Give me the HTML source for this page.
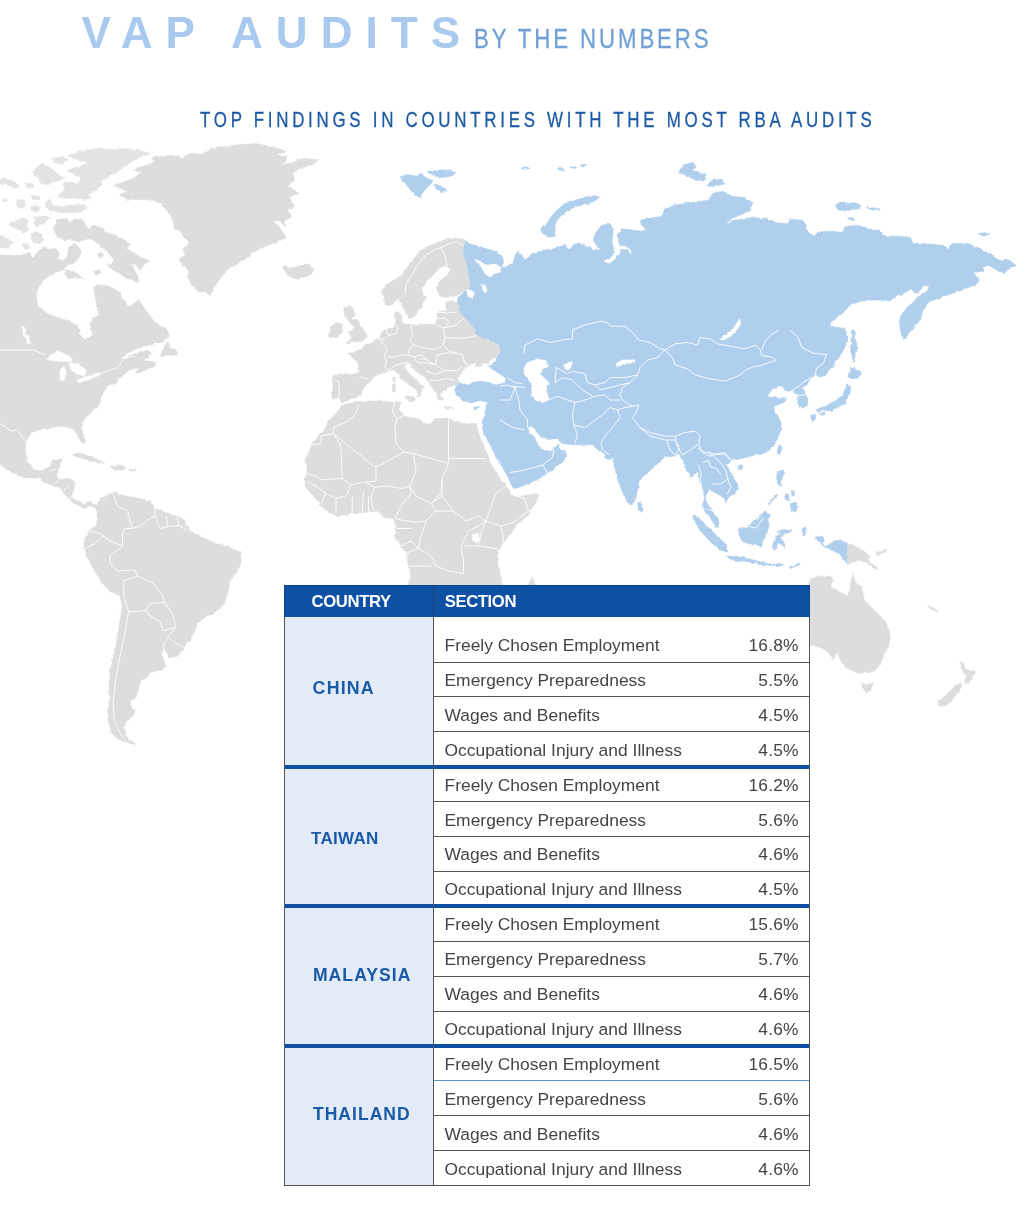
<!DOCTYPE html>
<html><head><meta charset="utf-8"><title>VAP Audits by the Numbers</title>
<style>
html,body{margin:0;padding:0;background:#fff}
body{width:1024px;height:1212px;position:relative;overflow:hidden;font-family:"Liberation Sans",sans-serif}
.map{position:absolute;left:0;top:0}
.t1{position:absolute;left:81.5px;top:9px;font-size:44px;font-weight:bold;color:#a9c9ee;letter-spacing:13.1px;line-height:48px;white-space:nowrap}
.t2{-webkit-text-stroke:0.3px #6f9fd6;position:absolute;left:473.5px;top:21px;font-size:28.5px;color:#6f9fd6;line-height:34px;white-space:nowrap;transform-origin:0 0;transform:scaleX(0.78);letter-spacing:3.73px}
.t3{-webkit-text-stroke:0.3px #1d5aa5;position:absolute;left:200px;top:106px;font-size:21.7px;color:#1d5aa5;line-height:28px;white-space:nowrap;transform-origin:0 0;transform:scaleX(0.78);letter-spacing:4.77px}
.table{position:absolute;left:284px;top:585px;width:526px;height:601px;background:#fff;box-sizing:border-box}
.table .frame{position:absolute;left:0;top:31px;right:0;bottom:0;border:1px solid #555;border-top:none;box-sizing:border-box;pointer-events:none}
.thead{position:absolute;left:0;top:0;width:526px;height:32px;box-sizing:border-box;border:1px solid #0b4590;border-bottom:none;background:#0e51a4;z-index:2;color:#fff;font-weight:bold;font-size:16.7px;letter-spacing:-0.4px}
.thead .h1{position:absolute;left:26.6px;top:5.6px;line-height:20px}
.thead .h2{position:absolute;left:159.7px;top:5.6px;line-height:20px}
.ccell{position:absolute;left:0;width:149px;background:#e4ebf8;color:#1a5aa6;font-weight:bold;font-size:16px;letter-spacing:1px}
.ccell span{position:absolute;line-height:20px;white-space:nowrap}
.row{position:absolute;left:149px;width:377px;font-size:17.4px;color:#444}
.row .a{position:absolute;left:11.5px;line-height:20px;letter-spacing:0.02px;white-space:nowrap}
.row .p{position:absolute;right:11.4px;line-height:20px;letter-spacing:0.15px;white-space:nowrap}
.hl{position:absolute;left:149px;width:377px;height:1px;background:#555}
.vl{position:absolute;left:148.5px;top:32px;width:1px;height:569px;background:#555}
.vlh{position:absolute;left:148.5px;top:0;width:1px;height:32px;background:#1b3f78;z-index:3}
.thick{position:absolute;left:0;width:526px;height:4px;background:#0e51a4}
</style></head><body>
<svg class="map" width="1024" height="1212" viewBox="0 0 1024 1212">
<defs><filter id="rough" x="-20" y="0" width="1064" height="1212" filterUnits="userSpaceOnUse"><feTurbulence type="fractalNoise" baseFrequency="0.22" numOctaves="2" seed="7" result="n"/><feDisplacementMap in="SourceGraphic" in2="n" scale="3.2" xChannelSelector="R" yChannelSelector="G"/></filter></defs>
<g filter="url(#rough)">
<path fill="#afcfed" stroke="#afcfed" stroke-width="0.6" stroke-linejoin="round" d="M465.5,239.8 468.4,243.7 476.2,245.6 486,248.6 495.8,251.5 502.6,257.3 503.6,262.2 501.6,268.1 507.5,266.1 513.4,263.2 515.3,255.4 517.3,251.5 520,250.5 515.8,252.5 522,255 524.5,260 532,253.8 544.5,250 554.5,248.8 564.5,245 569.5,250 574.5,243.8 584.5,245 594.5,250 599.5,250 593.2,240 595.8,232.5 602,225 610.8,223.8 613.2,230 612,242.5 614.5,252.5 609.5,258.8 602,261.2 609.5,263.8 617,257.5 620.8,250 627,248.8 630.8,255 632,251.2 627,246.2 619.5,245 617,235 622,228.8 632,230 642,231.2 647,230 640.8,225 640.8,220 662,216.2 664.5,210 674.5,205 692,202.5 709.5,200 712,193.8 722,191.2 732,196.2 744.5,197.5 752,202.5 750.8,210 737,216.2 724.5,223.8 737,220 752,217.5 768,218.8 768,220 778,223 788,223.8 790.5,218.8 803,220.5 806.8,226.2 805.5,230 814.2,236.2 818,232 830.5,231.2 843,232.5 845.5,226.2 858,225 868,228.8 878,230 885.5,236.2 898,236.2 910.5,237.5 913,243.8 928,243.8 940.5,245 948,249.5 951.8,243.8 965.5,243 978,247.5 990.5,253.8 998,260 1003,261.2 1004.2,258.8 1011.8,261.2 1015.5,265 1008,268.8 1004.2,273.8 996.8,270 988,265 983,267.5 983,271.2 973,272.5 979.2,280 975.5,285 965.5,288.8 948,295 930.5,301.2 928,302.5 923,310 920.5,320 913,327.5 908,335 903,340 900.5,330 899.2,320 904.2,310 913,302.5 920.5,295 928,290 929.2,285 924.2,286.2 918,292.5 910.5,290 903,292.5 895.5,297.5 890.5,301.2 883,300 873,300 860.5,301.2 850.5,305 840.5,315 830.5,322.5 829.2,326.2 838,327.5 845.5,328.8 848,337.5 845,347.6 839.1,357.3 832.3,367.1 826.4,373.9 821.6,376.9 816.7,375.9 811.8,376.9 807.9,382.7 803,387.6 805.9,394.5 807.9,401.3 806.9,407.1 802,408.1 799.1,407.1 798.1,400.3 799.1,395.4 795.2,393.5 793.2,389.6 788.4,391.5 784.5,389.6 783.5,386.6 778.6,385.7 773.7,388.6 769.8,391.5 767.9,394.5 770.8,397.4 776.6,396.4 780.5,398.4 784.5,398.4 787.4,399.3 782.5,403.2 776.6,405.2 773.7,407.1 774.7,412 778.6,416.9 781.5,423.8 780.5,431.6 777.6,438.4 773.7,445.2 767.9,451.1 762,454 755.2,455 749.3,457 743.4,457.9 738.6,459.9 733.7,458.9 729.8,462.8 725.9,464.8 729.5,471 734.5,478.5 738.2,486 735.8,493.5 729.5,496 725.8,502.2 724.5,498.5 717,493.5 712,491 709.5,488.5 705.8,496 707,503.5 712,511 718.2,518.5 719.5,527.2 715.8,527.2 710.8,518.5 704.5,511 703.2,503.5 704.5,498.5 703.2,491 699.5,481 698.2,471 694.5,474.8 690.8,477.2 687,471 682,459.8 678.2,453.5 674.5,456 664.5,457.2 659.5,462.2 649.5,471 639.5,479.8 638.2,486 635.8,498.5 632,504.8 628.2,503.5 623.2,493.5 618.2,481 614.5,468.5 613.2,457.2 610.8,459.8 605.8,458.5 604.5,453.5 599.5,451 592,444.8 574.5,444.8 562,443.5 558.2,439.8 559.1,448.1 565,452 567,455.9 563,461.8 557.2,466.7 549.4,471.6 543.5,476.4 533.8,481.3 522,486.2 513.2,489.1 512.3,487.2 508.4,477.4 502.5,467.7 496.6,457.9 491.8,448.1 486.9,438.4 483,430.5 482,426.6 482,422.7 483.9,416.9 485.9,409.1 486.9,402.2 481,400.3 473.2,402.2 463.4,401.2 456.6,395.4 454.6,389.5 457.7,380.4 460.6,374.5 485,363.8 489.9,362.8 493.8,359.9 498.7,355 500.7,350.1 497.7,345.2 489.9,341.3 482.1,337.4 476.2,335.5 474.3,329.6 470.4,323.8 464.5,317.9 459.6,312 457.7,304.2 457.7,298.4 460.6,295.4 465.5,290.5 470.4,286.6 469.4,280.8 467.5,271 465.5,261.2 462.6,251.5 463.6,245.6Z"/>
<path fill="#e3e3e3" stroke="#e3e3e3" stroke-width="0.6" stroke-linejoin="round" d="M81.2,150.9 96.9,148.6 112.5,149.4 125,148.6 137.5,150.2 150,153.3 140.6,157.2 131.2,161.9 123.4,167.3 115.6,172.8 109.4,175.9 103.1,180.6 100,186.9 93.8,191.6 87.5,194.7 92.2,197.8 84.4,199.4 75,197.8 65.6,198.6 56.2,197.8 60.9,193.1 65.6,188.4 62.5,183.8 68.8,181.4 78.1,183.8 81.2,179.1 75,174.4 67.2,171.2 73.4,168.1 81.2,166.6 87.5,163.4 81.2,160.3 73.4,158.8 67.2,155.6 75,153.3Z M31.2,172.8 35.9,168.1 42.2,163.4 48.4,166.6 54.7,171.2 60.9,175.9 65.6,178.3 59.4,180.6 51.6,182.2 46.9,185.3 40.6,182.2 37.5,177.5Z M51.6,158.8 62.5,156.4 68.8,160.3 62.5,163.4 54.7,162.7Z M45.3,202.5 50,199.4 53.1,205.6 62.5,206.4 73.4,204.8 84.4,204.8 87.5,208 81.2,211.9 68.8,212.7 59.4,212.7 50,211.1 46.1,207.2Z M-9.4,179.1 9.4,179.1 17.2,183.8 19.5,187.7 12.5,186.9 4.7,183.8 -9.4,183Z M25,183 31.2,183.8 34.4,186.9 29.7,188.4 25.8,186.1Z M31.2,195.5 39.1,196.2 39.8,199.4 32.8,199.4Z M17.2,199.4 24.2,200.2 25.8,205.6 20.3,208.8 16.4,204.8Z M30.5,207.2 37.5,205.6 39.8,209.5 35.9,211.9 31.2,210.3Z M2.3,198.6 7,199.4 6.2,201.7 2.3,200.9Z M34.4,216.6 46.9,216.6 50,218.1 45.3,222.8 39.1,224.4 37.5,227.5 34.4,224.4Z M9.4,223.6 17.2,219.7 23.4,218.1 28.1,221.2 26.6,227.5 29.7,229.8 23.4,232.2 17.2,229.1 12.5,226.7Z M31.2,233.8 35.9,231.4 41.4,233.8 43.8,240 39.1,243.9 33.6,243.1 31.2,238.4Z M-9.4,230.6 4.7,236.9 12.5,241.6 9.4,247.8 3.1,247.8 -9.4,246.2Z M21.9,244.7 28.1,243.9 31.2,247.8 25,249.4Z"/>
<path fill="#dddddd" stroke="#dddddd" stroke-width="0.6" stroke-linejoin="round" d="M53.9,227.5 57.8,219.7 65.6,218.1 70.3,222.8 73.4,219.7 81.2,218.9 85.2,224.4 89.1,229.1 93.8,225.2 100,227.5 106.2,232.2 112.5,233.8 118.8,236.9 125,240 129.7,244.7 126.6,247.8 132.8,252.5 140.6,257.2 149.2,261.1 143.8,265 140.6,269.7 135.9,265 129.7,263.4 134.4,269.7 137.5,275.9 139.1,282.2 132.8,280.6 125,277.5 118.8,272.8 112.5,269.7 107.8,265 114.1,261.9 112.5,257.2 107.8,252.5 101.6,246.2 95.3,241.6 89.1,238.4 84.4,240 78.1,241.6 70.3,240 64.1,240 57.8,236.9 54.7,232.2Z M95.3,286.9 106.2,286.1 114.1,290 120.3,296.2 125,302.5 132.8,310.3 137.5,315 131.2,316.6 121.9,311.9 112.5,308.8 103.1,304.1 96.9,300 94.5,293.1Z M96.9,254.1 101.6,252.5 103.9,255.6 100,258Z M93.8,271.2 100,269.7 100.8,273.6 95.3,274.4Z M65.6,269.7 73.4,271.2 79.7,275.9 82.8,278.3 75,277.5 68.8,279.1 64.8,274.4Z M160.2,355.4 163.1,349.5 168,340.7 169.9,347.6 175.8,349.5 177.7,354.4 171.9,356.4 166,355.4Z M113.2,185.5 122.9,182.3 133.6,178 142.2,171.5 133.6,170.4 142.2,166.2 153,162.9 153,157.6 168,155.4 178.8,155.4 180.9,158.6 189.5,153.3 202.4,154.3 211,149 226,146.8 238.9,144.7 256.1,143.6 273.3,146.8 286.2,151.1 275.4,155.4 288.3,156.5 281.9,165.1 292.6,161.9 303.4,158.6 318.4,159.7 312,165.1 299.1,168.3 292.6,173.7 294.8,180.1 288.3,186.6 299.1,193 289.4,197.3 294.8,205.9 287.2,210.2 292.6,216.6 284,220.9 286.2,227.4 279.7,220.9 273.3,220.9 281.9,229.5 286.2,238.1 275.4,242.4 264.7,246.7 253.9,252.1 247.5,257.5 236.8,263.9 226,270.4 219.6,278.9 214.2,287.5 209.9,296.1 205.6,291.8 198.1,291.8 192.7,285.4 187.3,276.8 189.5,270.4 184.1,266.1 178.8,259.6 185.2,255.3 183,248.9 189.5,242.4 183,236 178.8,229.5 174.5,229.5 173.4,220.9 168,212.3 161.6,203.8 150.8,199.5 137.9,199.5 127.2,199.5 119.7,195.2 127.2,190.9 118.6,188.7Z M281.9,268.2 285.1,265 290.5,268.2 299.1,266.1 307.7,263.9 314.1,269.3 310.9,274.6 301.2,277.9 294.8,278.9 288.3,275.7 286.2,272.5Z"/>
<path fill="#afcfed" stroke="#afcfed" stroke-width="0.6" stroke-linejoin="round" d="M400.5,176.2 408.5,174.5 416,176.2 419.8,173.8 428.5,178.8 433.5,181.2 428.5,186.2 423.5,191.2 419.8,197.5 413.5,193.8 409.8,188.8 406,183.8 402.2,180Z M427.2,171.2 438.5,170 446,170 456,172.5 451,176.2 441,177.5 431,175Z M434.8,183.8 441,186.2 447.2,190 441,192 436,188.8Z"/>
<path fill="#dddddd" stroke="#dddddd" stroke-width="0.6" stroke-linejoin="round" d="M343.5,307.5 352.2,306.2 354.8,315 351,318.8 358.5,321.2 363.5,330 367.2,336.2 363.5,340 353.5,342.5 346,343.8 352.2,337.5 348.5,332.5 354.8,327.5 349.8,322.5 344.8,316.2Z M329.8,327.5 336,322.5 342.2,325 342.2,332.5 336,337.5 329.8,337.5Z"/>
<path fill="#afcfed" stroke="#afcfed" stroke-width="0.6" stroke-linejoin="round" d="M540.8,230 547,222.5 554.5,212.5 564.5,203.8 579.5,198.8 594.5,195.5 599.5,197.5 592,202.5 577,206.2 565.8,211.2 559.5,217.5 554.5,226.2 555.8,236.2 549.5,237 543.2,233.8Z M678.2,171.2 684.5,165 692,162.5 697,166.2 692,171.2 698.2,172.5 705.8,173.8 704.5,180 695.8,180 688.2,176.2 682,173.8Z M707,186.2 713.2,178.8 722,180 724.5,183.8 714.5,186.2Z M522,167.5 527,167 530,168.5 523.2,169.2Z M557,168.5 563.2,168 565,170 558.2,170.5Z M569.5,167 575.8,166.5 576.5,168 570.5,168.5Z M580.8,164.5 585.8,164.2 586,165.8 581.2,166Z M835.5,205 840.5,202 848,203.8 853,202.5 860.5,205 859.2,208.8 851.8,209.5 843,211.2 837.5,209.5Z M866.8,207.5 875.5,208 880.5,210 873,210.5Z M847.5,217.5 854.2,218 855.5,220.5 849.2,220Z M978,233.8 984.2,232.5 990,233.8 984.2,236.2Z M851.8,330 854.2,330 855.5,340 858,347.5 855.5,355 853,362.5 851.8,355 851,342.5Z M850.5,370 854.2,367.5 861.8,372.5 859.2,376.2 853,378.8 848,377.5Z"/>
<path fill="#dddddd" stroke="#dddddd" stroke-width="0.6" stroke-linejoin="round" d="M382.5,288.6 387.4,283.7 396.2,278.8 402,274.9 407.9,267.1 413.8,259.3 419.6,251.5 427.4,246.6 437.2,242.7 447,238.8 456.7,237.8 465.5,239.8 463.6,245.6 462.6,251.5 465.5,261.2 467.5,271 469.4,280.8 470.4,286.6 466.5,289.6 459.6,294.5 452.8,296.4 445,297.4 439.1,295.4 437.2,290.5 437.2,284.7 441.1,279.8 446,275.9 449.9,271 448.9,267.1 444,266.1 439.1,268.1 435.2,273 430.4,277.9 425.5,282.7 422.5,288.6 422.5,294.5 426.4,297.4 423.5,302.3 420.6,307.1 417.7,312 413.8,316.9 408.9,318.9 405.9,314 404,308.1 402,302.3 398.1,299.3 395.2,302.3 390.3,305.2 385.4,305.2 383.5,300.3 384.5,295.4 381.5,292.5Z M394.2,314 398.1,312 402,315.9 401.1,321.8 405.9,323.8 413.8,325.7 421.6,324.7 429.4,323.8 435.2,324.7 437.2,318.9 438.2,312 442.1,310.1 447,311.1 446,307.1 445,302.3 449.9,301.3 456.7,302.3 457.7,304.2 459.6,312 464.5,317.9 470.4,323.8 474.3,329.6 476.2,335.5 482.1,337.4 489.9,341.3 497.7,345.2 500.7,350.1 498.7,355 493.8,359.9 489.9,362.8 485,363.8 482.1,364.8 479.2,367.7 474.3,366.7 476.2,362.8 470.4,364.8 464.5,369.6 460.6,374.5 457.7,380.4 460.6,379.8 458.9,383.3 455.3,385 450.1,386.8 446.6,389.4 443,392.1 439.5,392.9 441.3,397.3 443,400 439.5,400 436.9,395.6 434.3,391.2 431.6,386.8 429,382.4 425.5,378 420.2,374.5 415.8,371 412.3,367.5 409.6,363.9 406.1,363.9 404.4,366.6 407,371 411.4,375.4 415.8,379.8 420.2,383.3 424.6,386.8 421.1,387.7 422,390.3 420.2,394.7 417.6,396.5 418.4,393.8 415.8,390.3 411.4,386.8 406.1,382.4 400.9,378 398.2,372.7 393.8,370.1 388.6,371 384.2,372.7 378,374.5 373.6,377.1 371,380.6 366.6,384.2 363.1,388.6 361.3,393.8 356.9,397.3 349.9,399.1 345.5,401.7 342,402.6 339.3,399.1 333.2,398.2 331.4,393.8 333.2,386.8 332.3,379.8 333.2,375.4 341.1,373.6 351.6,374.5 357.8,373.6 359.1,370.6 358.1,362.8 352.2,357 348.3,353 356.1,352.1 362,347.2 366.9,344.3 373.7,342.3 378.6,338.4 382.5,332.5 386.4,329.6 392.3,327.7 395.2,324.7 395.2,318.9Z M405.9,396 413.8,397 415.7,399.9 410.8,401.9 406.9,398.9Z M392.3,384.3 395.2,384.3 395.8,392.1 392.7,392.1Z M392.7,377.5 395.2,377.5 395.2,382.3 393,382.3Z M444,406.8 452.8,407.3 452.8,408.7 445,408.3Z"/>
<path fill="#afcfed" stroke="#afcfed" stroke-width="0.6" stroke-linejoin="round" d="M474.3,407.3 479.2,406.8 478.2,408.7 475.3,408.9Z"/>
<path fill="#dddddd" stroke="#dddddd" stroke-width="0.6" stroke-linejoin="round" d="M342.2,404.8 356,402.2 371,401 391,401 401,402.2 398.5,408.5 403.5,416 416,418.5 428.5,424.8 436,418.5 448.5,418.5 463.5,423.5 476,423.5 476.1,424.7 479.1,434.5 483,444.2 486.9,454 490.8,463.8 496.6,473.5 502.5,481.3 508.4,489.1 511.3,495 518.1,497 527.9,495 537.7,494 536.7,500.9 531.8,508.7 524,518.4 516.2,526.2 508.4,536 501.5,545.8 497.6,553.6 497.6,563.4 499.6,570 502.5,584.8 504.5,600.5 411,601 408.5,583.5 411,576 408.5,566 406,553.5 401,546 394.8,536 396,528.5 393.5,518.5 383.5,517.2 378.5,511 366,512.2 351,513.5 338.5,516 331,513.5 321,506 313.5,496 306,488.5 304.8,481 307.2,471 304.8,461 307.2,453.5 313.5,441 323.5,431 328.5,421 336,413.5Z M528.2,583.5 532,577.2 535,583.5 535.8,593.5 527,593.5Z M-12.5,254.1 9.4,255.6 20.3,255.6 29.7,252.5 32.8,258.8 37.5,252.5 43.8,246.2 48.4,249.4 54.7,247.8 59.4,252.5 57.8,258.8 62.5,261.9 67.2,255.6 68.8,247.8 73.4,243.9 79.7,246.2 81.2,252.5 78.1,258.8 73.4,263.4 67.2,265 62.5,269.7 56.2,272.8 46.9,277.5 40.6,283.8 36.7,291.6 36.2,295 37.5,305 47.5,313.8 65,320 77.5,325 80,335 86.2,340 92.5,335 90,322.5 98.8,313.8 96.2,302.5 93.8,290 96.2,285 110,286.2 120,292.5 122.5,303.8 130,306.2 138.8,300 147.5,312.5 155,322.5 167.5,330 168.9,336.8 162.1,341.7 152.3,344.6 142.6,346.6 134.8,349.5 127,353.4 121.1,358.3 125,359.3 132.8,354.4 140.6,351.5 148.4,350.5 151.4,353.4 146.5,357.3 143.6,361.2 150.4,361.2 155.3,362.2 154.3,365.2 146.5,367.1 154.3,363.6 156.2,365.5 148.4,368.7 142.6,371.4 136.7,373.4 135.7,371.4 140.6,369.1 134.8,368.1 127,372 121.1,376.9 117.2,381.8 109.4,384.7 107.5,386 102.5,393.5 100,403.5 92.5,411 85,418.5 81.2,423.5 82.5,433.5 86.2,442.2 82.5,443.5 77.5,436 73.8,428.5 62.5,426 52.5,427.2 42.5,428.5 32.5,432.2 26.2,441 25,451 27.5,461 33.8,469.8 42.5,471 50,466 52.5,459.8 62.5,459 58.8,468.5 56.2,476 58.8,479.8 68.8,478.5 75,482.2 73.8,491 71.2,496 76.2,500.5 83.8,504 88.8,501.5 96.2,505.5 100,499.8 105,496 115,492.2 125,496 140,498.5 150,501 155,508.5 170,513.5 182.5,518.5 190,531 200,536 212.5,542.2 227.5,546 240,552.2 242.5,561 237.5,571 230,581 227.5,593.5 222.5,606 215,613.5 205,617.2 197.5,623.5 193.8,633.5 190,642 187.5,641.2 183.8,648.8 177.5,656.2 170,657.5 163.8,648.8 161.2,655 163.8,660 166.2,666.2 160,670 150,672.5 147.5,677.5 141.2,680 138.8,687.5 136.2,696.2 131.2,700 130,705 135,710 133.8,715 127.5,720 123.8,727.5 125,735 130,740 136.2,744.5 127.5,742.5 117.5,738.8 111.2,732.5 108.8,722.5 107.5,710 110,700 108.8,685 110,672.5 112.5,660 116.2,645 120,621 122.5,606 120,596 110,591 102.5,583.5 95,571 87.5,558.5 83.8,548.5 85,538.5 90,531 96.2,526 97.5,513.5 96.2,508.5 90,505.5 85,508.5 75,503.5 66.2,497.2 60,487.2 52.5,486 45,482.2 38.8,477.2 32.5,478.5 22.5,477.2 10,471 -10,458.5Z M72.5,454.8 80,453 90,456 100,461 105,463.5 98.8,463 87.5,459.8 77.5,457.2Z M110,466 117.5,464.8 125,467.2 122.5,469.8 112.5,469.8Z M130,469 135,469 135,471 130,471Z"/>
<path fill="#afcfed" stroke="#afcfed" stroke-width="0.6" stroke-linejoin="round" d="M737,466 742,464.8 743.2,468 738.2,469.8Z M637.8,503 640.8,502.2 643.2,507.2 642,512.2 638.2,511Z M692,516 698.2,517.2 709.5,528.5 719.5,538.5 726.5,544.8 726.5,552.2 719.5,549.8 709.5,541 699.5,529.8Z M727,556 737,556.5 749.5,559 762,562.2 772,564.5 772,566 749.5,562 732,559.5Z M738.2,529.2 746.4,527.2 753.6,522 759.7,516.9 763.8,511.8 771,514.9 767.9,519 769,526.1 766.9,533.3 762.8,540.5 761.8,546.6 755.6,544.6 748.4,543.6 742.3,541.5 739.2,535.4Z M850.9,368.1 854.8,371 861.6,373.9 859.6,376.9 854.8,378.8 850.9,377.9 847.9,376.9 849.9,373Z M847,384.7 850.9,386.6 849.9,393.5 847,398.4 845,404.2 839.1,407.1 833.3,409.1 831.3,412 826.4,410.1 821.6,410.1 817.7,412 815.7,410.1 819.6,408.1 825.5,406.2 832.3,402.3 837.2,400.3 842.1,395.4 845,389.6Z M810.8,414 815.7,415 815.3,419.8 812.8,421.8 810.8,418.9Z M819.6,413 825.5,411.6 823.5,415 820,415.4Z M778.2,447.2 780.9,445.6 781.5,450.1 779.6,455 777,453Z M777.6,470.6 783.5,470.2 783.5,477.5 780.5,481.4 781.5,486.2 778.6,485.3 776.6,478.4Z M790.3,503.8 796.2,501.9 798.1,506.8 795.2,511.6 791.3,510.7Z M785.4,494.1 788.4,494.1 789.3,500.9 786,499.9Z M791.3,490.2 794.2,491.1 794.2,496 791.9,495.6Z M767.9,503.8 776.6,494.1 777.6,495 768.8,504.8Z M773.1,542.5 776.1,536.4 781.3,533.3 777.2,531.3 781.3,530.2 791.5,529.2 792.5,531.3 784.3,534.3 780.2,537.4 783.3,541.5 785.4,547.7 781.3,544.6 778.2,542.5 776.1,546.6 775.1,551.8 773.1,546.6Z M802.5,528.5 805,527.2 805.5,534.8 803,536Z M815.5,537.2 821.8,536 824.2,541 821.8,544.8 826.8,546 834.2,541 840.5,539.8 847.5,543.5 847.5,563.5 843,558.5 839.2,553.5 833,551 828,548.5 824.2,546 818,541Z"/>
<path fill="#dddddd" stroke="#dddddd" stroke-width="0.6" stroke-linejoin="round" d="M847.5,543.5 855.5,546 863,551 870.5,556 868,559.8 873,564.8 879.2,569.8 873,568 866.8,562.2 860.5,561 853,562.2 847.5,563.5Z M875.5,553 883,551 886.8,548.5 885.5,552.2 878,554.8Z"/>
<path fill="#afcfed" stroke="#afcfed" stroke-width="0.6" stroke-linejoin="round" d="M789.2,567.2 799.2,563 800,564.5 790.5,568.5Z M773,564 783,564 783,565.5 773,565.5Z"/>
<path fill="#dddddd" stroke="#dddddd" stroke-width="0.6" stroke-linejoin="round" d="M810.5,580 818,576.2 830.5,576.2 833,580 830.5,586.2 840.5,592.5 848,596.2 850.5,583.8 853,572.5 855.5,583.8 861.8,586.2 864.2,598.8 870.5,606.2 878,613.8 885.5,621.2 889.2,631.2 890.5,637.5 888,647.5 883,657.5 878,667.5 870.5,672.5 863,672.5 858,673.8 853,671.2 845.5,667.5 840.5,660 836.8,651.2 834.2,660 830.5,656.2 825.5,650 818,646.2 810.5,645 793,650 778,657.5 763,660 753,650 748,632.5 750.5,617.5 763,607.5 778,600 793,592.5 805.5,588Z M861,683 866.8,684.2 873,683 870.5,690 866.8,693 863.5,688.8Z M960,660 963,662.5 965.5,668.8 970.5,671.2 976,671.2 971.8,677.5 968,683.8 965.5,682.5 966.8,676.2 963,672.5 961.8,666.2Z M960.5,683 961.8,686.2 958,692.5 953,698.8 946.8,705 940.5,706.2 937.5,703 943,697.5 949.2,692.5 954.2,686.2Z M928,605.5 938,611 937,612 927.5,606.5Z"/>
<path fill="#ffffff" stroke="#ffffff" stroke-width="0.6" stroke-linejoin="round" d="M460.6,374.5 464.5,369.6 470.4,364.8 476.2,362.8 474.3,366.7 479.2,367.7 482.1,364.8 485,363.8 489.9,364.8 493.8,361.8 496.8,357.9 491.9,358.9 488,365.7 491.9,369.6 499.7,374.5 505.5,378.4 504.6,382.3 495.8,384.3 488,382.3 480.2,380.4 474.3,381.4 468.4,384.3 461.6,383.3 457.7,379.4Z M527.9,427.6 532.8,426.6 536.7,432.5 541.6,438.4 549.4,440.3 557.2,438.4 559.1,442.3 555.2,447.1 551.3,450.1 543.5,450.1 538.6,445.2 535.7,438.4 530.8,432.5Z M466.5,289.6 471.4,290.5 475.3,294.5 472.3,298.4 468.4,296.4Z M481.1,283.7 485,284.7 487,290.5 484.1,292.5Z M474.3,259.3 480.2,261.2 486,265.2 495.8,264.2 501.6,268.1 500.7,272 493.8,273.9 489.9,276.9 485,273.9 482.1,268.1Z M719.5,338.8 729.5,332.5 735.8,325 739.5,318.8 740.8,323.8 737,330 730.8,336.2 723.2,340Z M564,365.5 568.2,362.5 572.5,361.8 571.5,366.2 568.5,370 565,369.2Z M615.8,363.8 622,360 634.5,360 634.5,362.5 623.2,363.8 617,367.5Z M472.2,534.1 479.1,533.1 480,539.9 475.2,542.9 472.2,539.9Z M46.2,358.8 57.5,351.2 70,356.2 72.5,361.2 60,361.2 50,361.2Z M60,370 63.8,366.2 66.2,373.8 64.5,381.2 60.5,380Z M68.8,362.5 77.5,363.8 86.2,370 85,376.2 77.5,373.8 71.2,370Z M77.5,380 87.5,376.2 100,372.5 100,375 88.8,379.5 78.8,382.5Z M21.2,327.5 23.8,326.2 30,342.5 28,343.8Z M523.8,368.8 527.5,362.5 537.5,358.8 546.2,361.2 548.8,366.2 542.5,368.8 540,373.8 546.2,380 550,383.8 546.2,386.2 547.5,393.8 548.8,400 542.5,402.5 535,400 531.2,395 532.5,386.2 528.8,380 525,375Z"/>
</g>
<path fill="none" stroke="#fff" stroke-opacity="0.9" stroke-width="1" stroke-linejoin="round" d="M523.8,353.8 525,345 537.5,338.8 550,342.5 562.5,340 572.5,338.8 572.5,330 585,325 600,321.2 607.5,322.5 610,326.2 625,326.2 632.5,332.5 638.8,340 650,342.5 660,348.8 665,350 M665,350 675,343.8 687.5,342.5 697.5,345 700,337.5 710,338.8 717.5,343.8 730,346.2 745,348.8 756,345 M665,350 672.5,357.5 675,365 687.5,368.8 695,375 710,378.8 725,381.2 740,375 747.5,368.8 756,366.2 M665,350 657.5,357.5 647.5,360 640,367.5 637.5,375 625,377.5 610,377.5 605,382.5 595,385 587.5,382.5 585,373.8 572.5,371.2 567.5,373.8 556.2,367.5 555,382.5 M637.5,375 630,382.5 622.5,387.5 620,395 622.5,400 632.5,406.2 638.8,405 636.2,412.5 632.5,417.5 640,427.5 650,432.5 665,436.2 675,436.2 685,432.5 695,431.2 700,436.2 698.8,445 702.5,452.5 710,456.2 717.5,453.8 725,452.5 730,460 M617.5,410 620,417.5 612.5,427.5 605,436.2 601.2,442.5 602.5,450 610,455 M575,402.5 572.5,415 573.8,425 577.5,435 575,442.5 M575,402.5 585,400 595,396.2 605,395 610,400 620,400 M573.8,425 585,427.5 595,420 602.5,415 610,407.5 617.5,410 625,407.5 632.5,406.2 M548.8,400 557.5,396.2 567.5,400 575,402.5 M555,382.5 562.5,377.5 572.5,380 582.5,390 592.5,396.2 M595,385 600,390 610,387.5 620,385 630,382.5 M515,387.5 518.8,400 520,410 527.5,420 527.5,427.5 M500,400 510,400 515,387.5 507.5,385 500,386.2 M500,420 512.5,427.5 525,430 M510,472.5 525,470 542.5,465 552.5,457.5 553.8,450 547.5,447.5 M542.5,465 548.8,475 M675,436.2 677.5,447.5 682.5,455 690,450 697.5,445 M640,427.5 650,436.2 665,440 M666.2,440 675,440 680,447.5 675,455 670,450 666.2,440 M507.5,377.5 515,382.5 522.5,383.8 M512.5,386.2 525,387.5 M405,294.5 405.9,284.7 411.8,274.9 417.7,265.2 425.5,255.4 435.2,249.5 441.1,247.6 M441.1,247.6 445,255.4 447,266.1 M441.1,247.6 448.9,243.7 456.7,241.7 463.6,245.6 M333.7,380.4 338.6,381.4 339.5,392.1 338.6,399.9 M359.1,376.5 368.8,379.4 M378.6,338.4 384.5,345.2 387.4,349.1 384.5,355 386.4,362.8 384.5,366.7 388.4,370.6 M410.8,325.7 412.8,335.5 409.8,341.3 413.8,345.2 409.8,349.1 407.9,355 M387.4,357 394.2,357 402,355 407.9,355 413.8,357 421.6,355 425.5,358.9 M443,327.7 445,337.4 443,345.2 M413.8,345.2 421.6,347.2 429.4,349.1 437.2,349.1 443,345.2 M437.2,318.9 445,317.9 448.9,321.8 445,327.7 437.2,325.7 M438.2,312 447,313 456.7,312 M445,327.7 454.8,325.7 464.5,317.9 M445,337.4 456.7,338.4 468.4,337.4 476.2,335.5 M443,345.2 448.9,351.1 456.7,353 462.6,355 464.5,362.8 468.4,364.8 M437.2,355 445,353 456.7,353 M437.2,355 435.2,364.8 445,370.6 456.7,370.6 462.6,366.7 M419.6,358.9 425.5,358.9 435.2,364.8 M425.5,370.6 435.2,374.5 445,370.6 M429.4,380.4 437.2,380.4 447,378.4 454.8,380.4 M388.4,370.6 396.2,364.8 405.9,362.8 411.8,364.8 M413.8,357 417.7,362.8 425.5,362.8 435.2,364.8 M386.4,329.6 388.4,335.5 384.5,339.4 378.6,338.4 M395.2,324.7 398.1,327.7 396.2,333.5 388.4,335.5 M755.9,345 760,349.5 762,355.4 772.7,357.3 775.7,360.3 766.9,363.2 759.1,366.1 755.9,366.3 M762,349.5 764.9,341.7 770.8,334.9 778.6,330 M790.3,330 798.1,337.8 802,347.6 813.8,353.4 826.4,354.4 823.5,363.2 816.7,368.1 814.7,375.9 M793.2,389.6 798.1,386.6 804,381.8 811.8,376.9 M799.1,395.4 805.9,394.5 M358.5,404.8 356,413.5 348.5,421 333.5,427.2 333.5,433.5 M333.5,433.5 321,436 321,443.5 311,444.8 306,458.5 M333.5,433.5 341,446 342.2,478.5 321,479.8 316,476 306,473.5 M333.5,433.5 373.5,466 378.5,466 403.5,452.2 M403.5,452.2 396,443.5 394.8,426 397.2,418.5 392.2,411 394.8,402.2 M403.5,416 397.2,418.5 M448.5,418.5 448.5,463.5 M403.5,452.2 413.5,453.5 448.5,463.5 M448.5,458.5 486,458.5 M413.5,453.5 416,471 409.8,486 416,496 431,503.5 441,493.5 442.2,478.5 448.5,463.5 M376,466 376,481 366,482.2 374.8,487.2 388.5,486 401,488.5 409.8,486 M374.8,487.2 371,496 373.5,511 M409.8,486 411,493.5 401,506 394.8,518.5 M342.2,478.5 351,484.8 363.5,482.2 366,482.2 M351,484.8 346,496 336,498.5 326,493.5 316,486 306,481 M336,498.5 336,513.5 M352.2,496 352.2,513.5 M363.5,491 362.2,512.2 M368.5,496 368.5,512.2 M326,493.5 321,503.5 M442.2,496 453.5,511 466,521 478.5,516 486,521 M442.2,478.5 442.2,496 431,503.5 M486,521 491,506 496,493.5 506,486 M431,503.5 436,511 426,521 416,522.2 M436,511 453.5,511 M426,521 421,536 418.5,548.5 408.5,552.2 406,558.5 M418.5,548.5 431,556 436,566 448.5,571 463.5,573.5 463.5,561 461,546 468.5,531 478.5,526 486,521 M394.8,518.5 406,521 416,522.2 M396,528.5 411,528.5 M401,546 411,541 418.5,548.5 M486,521 481,533.5 478.5,546 M478.5,546 496,548.5 508.5,558.5 M464.8,546 478.5,546 M408.5,566 431,566 M486,521 501,526 513.5,522.2 528.5,511 M501,526 503.5,541 508.5,558.5 M506,486 516,496 524.8,498.5 M524.8,498.5 528.5,511 543.5,503.5 553.5,506 M113.8,494.8 117.5,506 127.5,511 130,521 132.5,528.5 M90,531 100,533.5 110,541 122.5,546 122.5,533.5 125,528.5 132.5,528.5 M132.5,528.5 140,526 150,518.5 155,516 155,508.5 M155,516 160,528.5 170,526 180,526 186.2,529.8 M166.2,516 167.5,526 M177.5,517.2 178.8,526 M85,548.5 95,543.5 102.5,536 110,541 M122.5,546 110,556 110,563.5 117.5,571 135,569.8 137.5,576 M0,423.5 11.2,431 17.5,429.8 25,441 M56.2,468.5 50,471 M60,478.5 53.8,484.8 M68.8,484.8 63.8,491 M72.5,496 68.8,498.5 M123.8,580.6 137.9,575.9 153.6,583.8 163,596.3 164.6,602.6 150.5,603.2 145.8,610.4 128.5,612 123.8,596.3 123.8,580.6 M164.6,602.6 172.4,613.5 175.5,627.6 163,630.8 159.9,621.4 148.9,615.1 145.8,610.4 M128.5,612 125.4,630.8 120.7,652.7 116,677.8 112.9,702.9 114.4,721.7 120.7,734.2 125.4,740.5 M175.5,627.6 167.7,637.1 163,646.5 164.6,655.9 M167.7,637.1 178.7,644.9 185,648 M0,350 33.8,350 45,355 M100,373.8 117.5,367.5 125,357.5 135,356.2 M698.2,464.6 701.3,472.8 700.3,481 702.3,489.2 M702.3,462.6 708.5,460.5 710.5,466.7 716.7,468.7 720.8,474.9 M708.5,452.3 714.6,457.4 720.8,462.6 725.9,470.8 727.9,479 M712.6,484.1 720.8,484.1 727.9,479 M727.9,479 731,487.2 726.9,494.3 M698.2,448.2 704.4,452.3 708.5,452.3 716.7,454.4 724.9,454.4 731,459.5 M706.4,508.7 712.6,510.8 M748.4,526.1 755.6,528.2 760.8,522 763.8,517.9"/>
</svg>
<div class="t1">VAP AUDITS</div>
<div class="t2">BY THE NUMBERS</div>
<div class="t3">TOP FINDINGS IN COUNTRIES WITH THE MOST RBA AUDITS</div>
<div class="table">
<div class="thead"><span class="h1">COUNTRY</span><span class="h2">SECTION</span></div>
<div class="ccell" style="top:32.0px;height:149.7px"><span style="left:28.6px;top:61.12px;font-size:17.8px;letter-spacing:1.2px">CHINA</span></div>
<div class="row" style="top:32.0px;height:45.0px"><span class="a" style="top:18.05px">Freely Chosen Employment</span><span class="p" style="top:18.05px">16.8%</span></div>
<div class="row" style="top:77.0px;height:34.9px"><span class="a" style="top:7.95px">Emergency Preparedness</span><span class="p" style="top:7.95px">5.5%</span></div>
<div class="hl" style="top:76.5px"></div>
<div class="row" style="top:111.9px;height:34.9px"><span class="a" style="top:7.95px">Wages and Benefits</span><span class="p" style="top:7.95px">4.5%</span></div>
<div class="hl" style="top:111.4px"></div>
<div class="row" style="top:146.8px;height:34.9px"><span class="a" style="top:7.95px">Occupational Injury and Illness</span><span class="p" style="top:7.95px">4.5%</span></div>
<div class="hl" style="top:146.3px"></div>
<div class="ccell" style="top:181.7px;height:139.6px"><span style="left:27.1px;top:62.28px;font-size:17.0px;letter-spacing:0.3px">TAIWAN</span></div>
<div class="row" style="top:181.7px;height:34.9px"><span class="a" style="top:7.95px">Freely Chosen Employment</span><span class="p" style="top:7.95px">16.2%</span></div>
<div class="row" style="top:216.6px;height:34.9px"><span class="a" style="top:7.95px">Emergency Preparedness</span><span class="p" style="top:7.95px">5.6%</span></div>
<div class="hl" style="top:216.1px"></div>
<div class="row" style="top:251.5px;height:34.9px"><span class="a" style="top:7.95px">Wages and Benefits</span><span class="p" style="top:7.95px">4.6%</span></div>
<div class="hl" style="top:251.0px"></div>
<div class="row" style="top:286.4px;height:34.9px"><span class="a" style="top:7.95px">Occupational Injury and Illness</span><span class="p" style="top:7.95px">4.5%</span></div>
<div class="hl" style="top:285.9px"></div>
<div class="thick" style="top:179.7px"></div>
<div class="ccell" style="top:321.3px;height:139.6px"><span style="left:28.9px;top:58.98px;font-size:17.6px;letter-spacing:1.05px">MALAYSIA</span></div>
<div class="row" style="top:321.3px;height:34.9px"><span class="a" style="top:7.95px">Freely Chosen Employment</span><span class="p" style="top:7.95px">15.6%</span></div>
<div class="row" style="top:356.2px;height:34.9px"><span class="a" style="top:7.95px">Emergency Preparedness</span><span class="p" style="top:7.95px">5.7%</span></div>
<div class="hl" style="top:355.7px"></div>
<div class="row" style="top:391.1px;height:34.9px"><span class="a" style="top:7.95px">Wages and Benefits</span><span class="p" style="top:7.95px">4.6%</span></div>
<div class="hl" style="top:390.6px"></div>
<div class="row" style="top:426.0px;height:34.9px"><span class="a" style="top:7.95px">Occupational Injury and Illness</span><span class="p" style="top:7.95px">4.6%</span></div>
<div class="hl" style="top:425.5px"></div>
<div class="thick" style="top:319.3px"></div>
<div class="ccell" style="top:460.9px;height:139.6px"><span style="left:28.9px;top:58.22px;font-size:17.5px;letter-spacing:1.05px">THAILAND</span></div>
<div class="row" style="top:460.9px;height:34.9px"><span class="a" style="top:7.95px">Freely Chosen Employment</span><span class="p" style="top:7.95px">16.5%</span></div>
<div class="row" style="top:495.8px;height:34.9px"><span class="a" style="top:7.95px">Emergency Preparedness</span><span class="p" style="top:7.95px">5.6%</span></div>
<div class="hl" style="top:495.3px;background:#5b93cf"></div>
<div class="row" style="top:530.7px;height:34.9px"><span class="a" style="top:7.95px">Wages and Benefits</span><span class="p" style="top:7.95px">4.6%</span></div>
<div class="hl" style="top:530.2px"></div>
<div class="row" style="top:565.6px;height:34.9px"><span class="a" style="top:7.95px">Occupational Injury and Illness</span><span class="p" style="top:7.95px">4.6%</span></div>
<div class="hl" style="top:565.1px"></div>
<div class="thick" style="top:458.9px"></div>
<div class="vl"></div><div class="vlh"></div>
<div class="frame"></div>
</div>
</body></html>
